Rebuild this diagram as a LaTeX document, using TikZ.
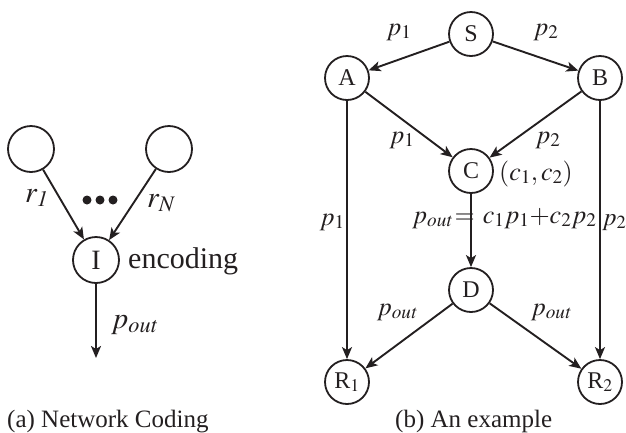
\documentclass[tikz,border=0pt]{standalone}
\usepackage{mathptmx}
\usepackage{fontspec}
\setmainfont{Liberation Serif}
\usetikzlibrary{arrows.meta}
\definecolor{ink}{RGB}{35,31,32}
\begin{document}
\begin{tikzpicture}[x=1pt,y=-1pt,
  nd/.style={circle,draw=ink,line width=1.8pt,minimum size=44pt,inner sep=0pt,text=ink,font=\fontsize{24}{28}\selectfont},
  bignd/.style={circle,draw=ink,line width=1.8pt,minimum size=46pt,inner sep=0pt,text=ink,font=\fontsize{28}{32}\selectfont},
  arr/.style={-{Stealth[length=12pt,width=10pt,inset=3pt]}, line width=1.9pt, draw=ink},
  lbl/.style={font=\fontsize{26}{30}\selectfont, inner sep=0pt, text=ink},
  biglbl/.style={font=\fontsize{30}{34}\selectfont, inner sep=0pt, text=ink},
  captext/.style={font=\fontsize{25}{28}\selectfont, inner sep=0pt, anchor=base west, text=ink}]
\useasboundingbox (0,0) rectangle (626,432);

% (a) Network coding
\node[bignd] (u1) at (31,149) {};
\node[bignd] (uN) at (169,149) {};
\node[bignd] (I) at (96,260) {I};
\node[biglbl, anchor=base west] (enc) at (128,268) {encoding};
\coordinate (out) at (96,358);
\draw[arr] (u1) -- (I);
\draw[arr] (uN) -- (I);
\draw[arr] (I) -- (out);
\node[biglbl, anchor=base west] (r1) at (25,202) {$r_{\mathit{1}}$};
\node[biglbl, anchor=base west] (rN) at (147,207) {$r_{N}$};
\node[biglbl, anchor=base west] (pout) at (111,328) {$p_{\mathit{out}}$};
\fill[ink] (87,200) circle (4.5pt);
\fill[ink] (100,200) circle (4.5pt);
\fill[ink] (113,200) circle (4.5pt);
\node[captext] (capa) at (7,427) {(a) Network Coding};

% (b) An example
\node[nd] (S) at (471,34) {S};
\node[nd] (A) at (347,78) {A};
\node[nd] (B) at (600,78) {B};
\node[nd] (C) at (471,171) {C};
\node[nd] (D) at (471,290) {D};
\node[nd] (R1) at (347,382) {R$_1$};
\node[nd] (R2) at (600,382) {R$_2$};
\draw[arr] (S) -- (A);
\draw[arr] (S) -- (B);
\draw[arr] (A) -- (C);
\draw[arr] (B) -- (C);
\draw[arr] (C) -- (D);
\draw[arr] (D) -- (R1);
\draw[arr] (D) -- (R2);
\draw[arr] (A) -- (R1);
\draw[arr] (B) -- (R2);
\node[lbl] (l1) at (399,32) {$p_1$};
\node[lbl] (l2) at (546,32) {$p_2$};
\node[lbl] (l3) at (402,140) {$p_1$};
\node[lbl] (l4) at (548,140) {$p_2$};
\node[lbl, anchor=base west] (cc) at (499,180) {$(c_1, c_2)$};
\node[lbl, anchor=base east] (l5) at (345,225) {$p_1$};
\node[lbl, anchor=base west] (eq) at (412,223) {$p_{\mathit{out}}$\hspace{2pt}$=$\hspace{8pt}$c_1p_1{+}c_2p_2$};
\node[lbl, anchor=base west, font=\fontsize{25}{30}\selectfont] (l6) at (602,225) {$p_2$};
\node[lbl] (l7) at (397,312) {$p_{\mathit{out}}$};
\node[lbl] (l8) at (551,312) {$p_{\mathit{out}}$};
\node[captext] (capb) at (395,427) {(b) An example};
\end{tikzpicture}
\end{document}
